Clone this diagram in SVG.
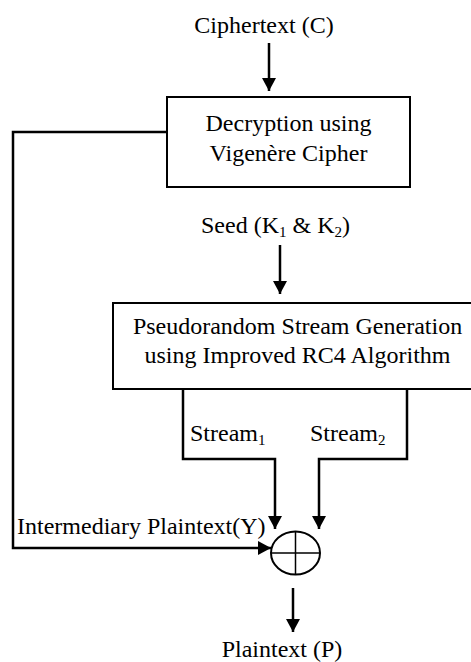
<svg xmlns="http://www.w3.org/2000/svg" width="471" height="662" viewBox="0 0 471 662">
<style>
text{font-family:"Liberation Serif","Times New Roman",serif;font-size:24px;fill:#000}
.sub{font-size:15px}
.box{fill:#fff;stroke:#000;stroke-width:2}
.conn{fill:none;stroke:#000;stroke-width:2.5}
</style>
<defs>
<marker id="ah" markerUnits="userSpaceOnUse" markerWidth="14" markerHeight="14" refX="13" refY="7" orient="auto" viewBox="0 0 14 14">
<path d="M0,0 L13,7 L0,14 Z" fill="#000"/>
</marker>
</defs>
<rect width="471" height="662" fill="#fff"/>
<g id="connectors">
<path class="conn" d="M269,43 V91" marker-end="url(#ah)"/>
<path class="conn" d="M280,245 V294" marker-end="url(#ah)"/>
<path class="conn" d="M167,132 H13 V548 H271" marker-end="url(#ah)"/>
<path class="conn" d="M183,389 V459 H275 V529" marker-end="url(#ah)"/>
<path class="conn" d="M407,389 V459 H319 V529" marker-end="url(#ah)"/>
<path class="conn" d="M293,588 V632" marker-end="url(#ah)"/>
</g>
<g id="ciphertext"><text x="264" y="33" text-anchor="middle">Ciphertext (C)</text></g>
<g id="decryption">
<rect class="box" x="167" y="97" width="243" height="90"/>
<text x="288.5" y="131" text-anchor="middle">Decryption using</text>
<text x="288.5" y="161" text-anchor="middle">Vigenère Cipher</text>
</g>
<g id="seed"><text x="275.5" y="233" text-anchor="middle">Seed (K<tspan class="sub" dy="4">1</tspan><tspan dy="-4"> &amp; K</tspan><tspan class="sub" dy="4">2</tspan><tspan dy="-4">)</tspan></text></g>
<g id="rc4">
<rect class="box" x="113" y="303" width="370" height="86"/>
<text x="297.5" y="334" text-anchor="middle">Pseudorandom Stream Generation</text>
<text x="297.5" y="363" text-anchor="middle">using Improved RC4 Algorithm</text>
</g>
<g id="stream1"><text x="190" y="441">Stream<tspan class="sub" dy="4">1</tspan></text></g>
<g id="stream2"><text x="310" y="441">Stream<tspan class="sub" dy="4">2</tspan></text></g>
<g id="intermediary"><text x="17" y="534">Intermediary Plaintext(Y)</text></g>
<g id="xor">
<ellipse cx="295.5" cy="553" rx="24.5" ry="21.5" fill="#fff" stroke="#000" stroke-width="2"/>
<path d="M271,553 H320 M295.5,531.5 V574.5" stroke="#000" stroke-width="1.5" fill="none"/>
</g>
<g id="plaintext"><text x="282" y="657" text-anchor="middle">Plaintext (P)</text></g>
</svg>
